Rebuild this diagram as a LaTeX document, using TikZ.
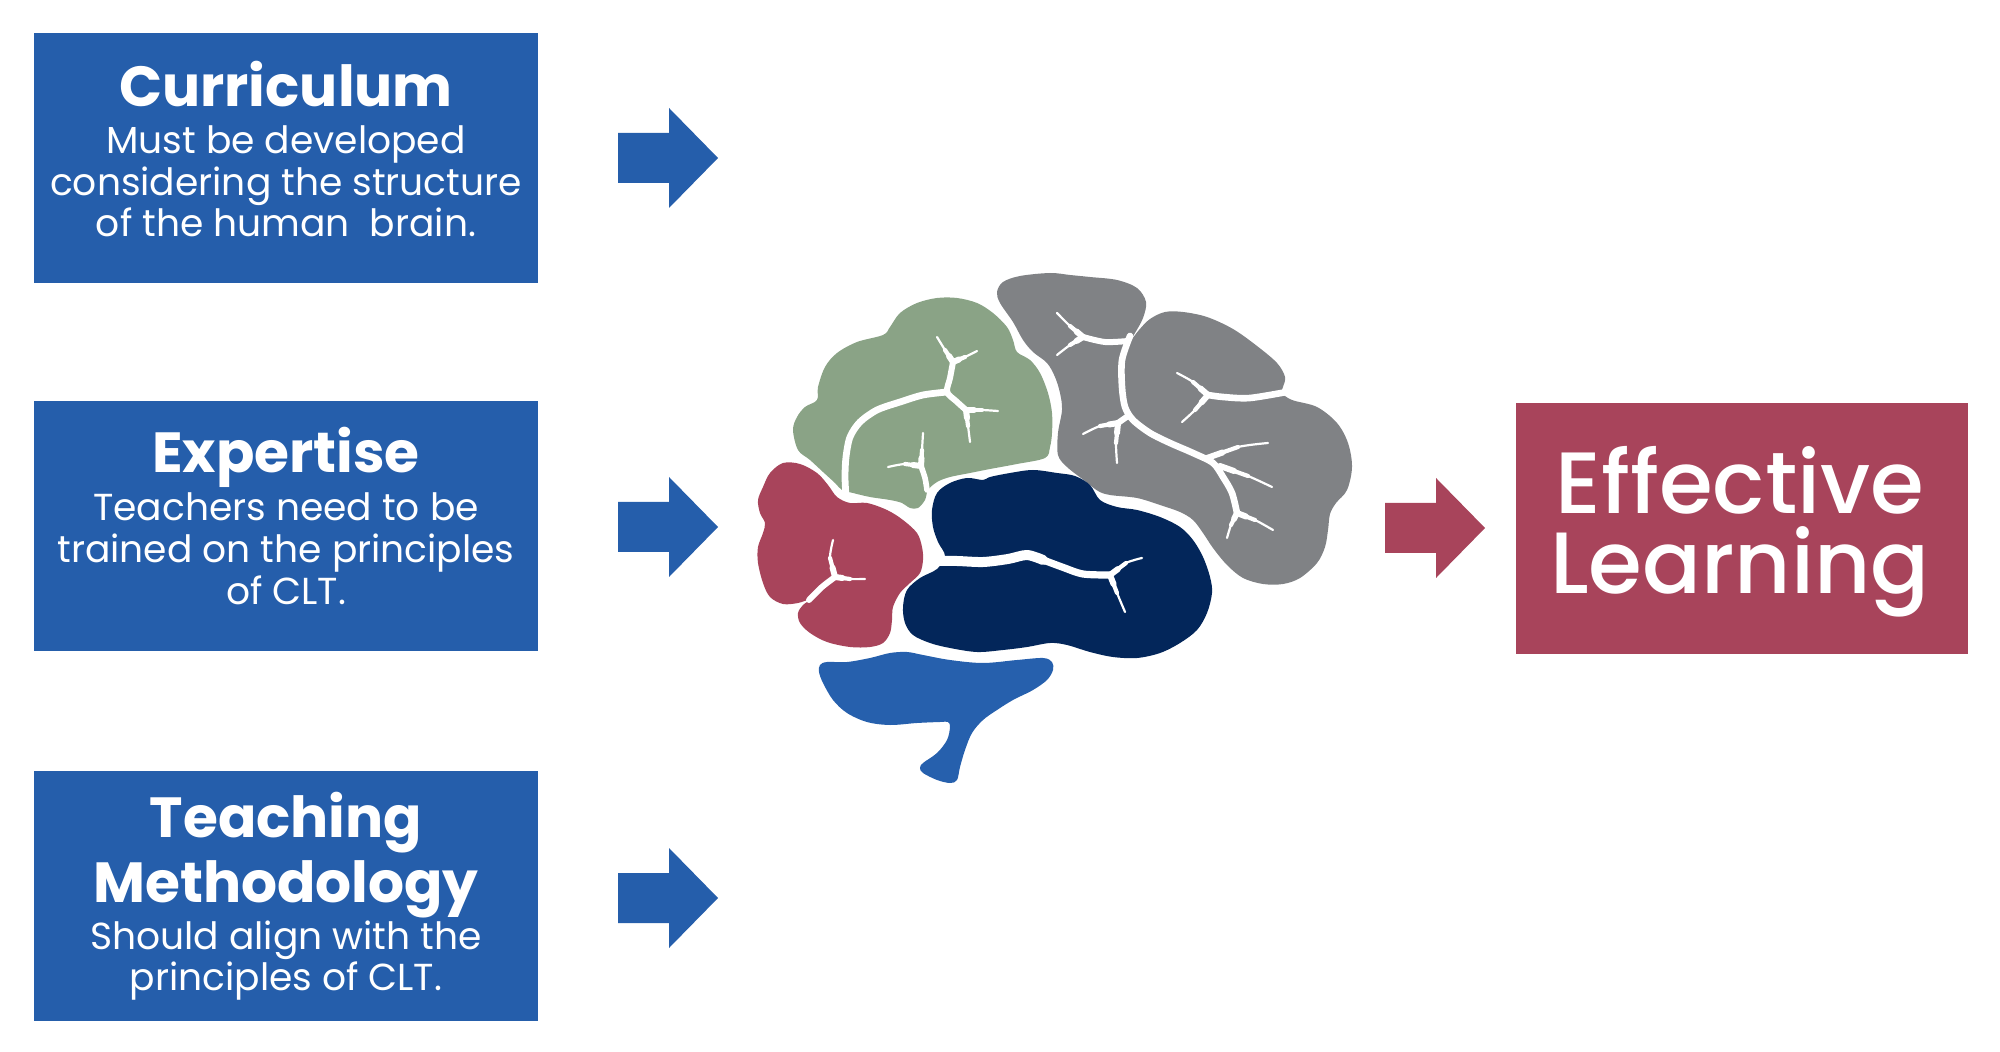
\documentclass[tikz,border=0pt]{standalone}
\usepackage{fontspec}
\setmainfont{Poppins}
\newfontfamily\medfont{Poppins Medium}
\usetikzlibrary{calc}
\definecolor{boxblue}{HTML}{255EAB}
\definecolor{lred}{HTML}{A8445B}
\definecolor{lgreen}{HTML}{8AA386}
\definecolor{lgray}{HTML}{808285}
\definecolor{lnavy}{HTML}{03265A}
\definecolor{lblue}{HTML}{2660AD}
\tikzset{
  infobox/.style={fill=boxblue, draw=none, minimum width=252pt, minimum height=125pt, inner sep=0pt},
  effbox/.style={fill=lred, draw=none, minimum width=226pt, minimum height=125.5pt, inner sep=0pt},
  titletext/.style={anchor=base, text=white, inner sep=0pt, font=\bfseries\fontsize{28.3}{32}\selectfont},
  subtext/.style={anchor=base, text=white, inner sep=0pt, font=\fontsize{18.8}{21}\selectfont},
  efftext/.style={anchor=base, text=white, inner sep=0pt, font=\medfont\fontsize{43.5}{48}\selectfont},
  crack/.style={draw=white, line cap=round, line join=round},
  blockarr/.pic={\fill (0,-25) -- (51,-25) -- (51,-50) -- (100,0) -- (51,50) -- (51,25) -- (0,25) -- cycle;}
}
\newcommand{\arm}[3]{%
  \draw[crack, line width=1.1pt] plot[smooth] coordinates {#1 #2 #3};
  \draw[crack, line width=2.1pt] plot[smooth] coordinates {#2 #3};
  \draw[crack, line width=3pt] ($#2!0.5!#3$) -- #3;}
\begin{document}
\begin{tikzpicture}[x=0.5pt,y=-0.5pt]
\useasboundingbox (0,0) rectangle (2000,1052);

% ---------- left boxes ----------
\node[infobox] (b1) at (286,158) {};
\node[infobox] (b2) at (286,526) {};
\node[infobox] (b3) at (286,896) {};

\node[titletext] (t1) at (286,107) {Curriculum};
\node[subtext] (s1a) at (286,154) {Must be developed};
\node[subtext] (s1b) at (286,195.5) {considering the structure};
\node[subtext] (s1c) at (286,237) {of the human~ brain.};

\node[titletext] (t2) at (286,472.5) {Expertise};
\node[subtext] (s2a) at (286,521) {Teachers need to be};
\node[subtext] (s2b) at (286,563) {trained on the principles};
\node[subtext] (s2c) at (286,604.5) {of CLT.};

\node[titletext] (t3a) at (286,837.5) {Teaching};
\node[titletext] (t3b) at (286,902) {Methodology};
\node[subtext] (s3a) at (286,949) {Should align with the};
\node[subtext] (s3b) at (286,990.5) {principles of CLT.};

% ---------- right box ----------
\node[effbox] (e) at (1742,528.5) {};
\node[efftext] (e1) at (1740,514) {Effective};
\node[efftext] (e2) at (1740,594) {Learning};

% ---------- block arrows ----------
\coordinate (a1) at (618,158);
\coordinate (a2) at (618,527);
\coordinate (a3) at (618,898);
\coordinate (a4) at (1385,528);
\pic[boxblue] at (a1) {blockarr};
\pic[boxblue] at (a2) {blockarr};
\pic[boxblue] at (a3) {blockarr};
\pic[lred] at (a4) {blockarr};

% ---------- brain ----------
% green (frontal)
\fill[lgreen] plot[smooth cycle, tension=0.55] coordinates {
(793,430) (797,417) (805,407) (817,400) (818,387) (825,367) (837,353) (857,342) (883,335)
(890,327) (900,313) (917,303) (937,298) (957,298) (977,303) (993,313) (1007,327) (1013,340)
(1017,352) (1030,360) (1040,373) (1048,393) (1052,413) (1052,433) (1050,447) (1045,458)
(1017,464) (990,469) (970,473) (950,477) (937,482) (928,490) (925,500) (918,508) (910,508)
(902,503) (890,500) (870,497) (853,493) (842,490) (835,483) (823,472) (810,460) (798,450)};
% gray (parietal)
\fill[lgray] plot[smooth cycle, tension=0.55] coordinates {
(997,292) (1003,282) (1020,276) (1050,273) (1070,275) (1090,277) (1117,280) (1137,288)
(1146,302) (1143,318) (1135,333) (1129,343) (1139,330) (1150,319) (1165,312) (1183,312) (1207,317)
(1233,329) (1257,346) (1277,363) (1285,377) (1283,387) (1282,393) (1292,400) (1317,407)
(1337,423) (1348,443) (1352,467) (1347,490) (1336,503) (1330,514) (1328,530) (1325,547)
(1317,563) (1300,578) (1283,584) (1263,584) (1243,578) (1227,565) (1213,548) (1203,533)
(1193,520) (1180,512) (1160,505) (1137,498) (1110,495) (1098,491) (1085,481) (1067,467)
(1058,455) (1058,433) (1062,410) (1060,393) (1055,377) (1047,363) (1033,352) (1023,340)
(1013,322) (1000,303)};
% navy (temporal)
\fill[lnavy] plot[smooth cycle, tension=0.55] coordinates {
(937,493) (950,483) (967,478) (983,480) (990,477) (1010,473) (1033,470) (1057,473)
(1075,476) (1090,485) (1100,500) (1117,507) (1137,510) (1160,517) (1180,527) (1193,540)
(1203,557) (1210,577) (1212,593) (1207,613) (1197,630) (1180,643) (1160,653) (1137,658)
(1113,657) (1090,652) (1067,645) (1050,643) (1027,647) (1003,650) (977,652) (950,648)
(930,643) (913,635) (905,623) (903,607) (907,590) (920,578) (937,569) (945,556) (938,542)
(933,527) (932,510)};
% red (occipital)
\fill[lred] plot[smooth cycle, tension=0.55] coordinates {
(763,487) (770,473) (783,463) (800,464) (817,473) (828,485) (837,497) (850,503) (867,503)
(887,510) (903,520) (917,533) (922,547) (923,560) (920,573) (910,583) (900,593) (893,607)
(892,620) (890,633) (883,643) (870,647) (850,647) (827,642) (810,633) (800,623) (798,613)
(803,605) (811,599) (798,603) (783,604) (770,597) (763,583) (758,563) (758,547) (763,533)
(765,523) (760,513) (758,500)};
% blue (cerebellum + stem)
\fill[lblue] plot[smooth cycle, tension=0.55] coordinates {
(820,665) (827,662) (847,662) (870,658) (890,653) (907,652) (923,655) (950,660) (983,663)
(1017,660) (1043,658) (1052,662) (1053,670) (1047,680) (1033,690) (1013,700) (997,710)
(983,720) (972,733) (965,750) (960,767) (957,780) (950,783) (937,780) (923,773) (920,768)
(923,763) (937,753) (947,740) (950,727) (948,722) (940,722) (917,723) (890,725) (867,722)
(847,713) (833,700) (823,683) (819,672)};

% ---------- sulci ----------
% green
\draw[crack, line width=3.4pt] plot[smooth] coordinates {(947,392) (923,395) (900,402) (877,410) (860,422) (850,437) (846,457) (845,477) (846,497)};
\arm{(937,337)}{(945,350)}{(953,362)}
\arm{(977,351)}{(965,357)}{(953,362)}
\draw[crack, line width=3pt] plot[smooth] coordinates {(953,362) (950,378) (947,392) (956,401) (966,410)};
\arm{(998,411)}{(982,410)}{(966,410)}
\arm{(970,442)}{(968,426)}{(966,410)}
\arm{(923,433)}{(922,450)}{(921,466)}
\arm{(888,467)}{(905,464)}{(921,466)}
\draw[crack, line width=2.8pt] plot[smooth] coordinates {(921,466) (925,478) (927,490)};
% red
\arm{(833,540)}{(830,558)}{(835,577)}
\arm{(865,579)}{(850,579)}{(835,577)}
\draw[crack, line width=3pt] plot[smooth] coordinates {(835,577) (822,587) (809,600)};
% gray
\arm{(1057,313)}{(1070,326)}{(1083,337)}
\arm{(1057,355)}{(1070,345)}{(1083,337)}
\draw[crack, line width=3pt] plot[smooth] coordinates {(1083,337) (1105,342) (1128,341)};
\draw[crack, line width=3.3pt] plot[smooth] coordinates {(1130,336) (1122,360) (1122,387) (1125,407) (1133,420) (1150,433) (1170,443) (1193,453) (1213,463) (1223,477) (1232,493) (1237,513)};
\arm{(1227,538)}{(1231,525)}{(1237,513)}
\arm{(1273,530)}{(1255,520)}{(1237,513)}
\arm{(1268,443)}{(1238,447)}{(1207,458)}
\arm{(1272,487)}{(1248,476)}{(1220,466)}
\arm{(1083,434)}{(1100,426)}{(1118,423)}
\arm{(1117,463)}{(1116,443)}{(1118,423)}
\draw[crack, line width=3pt] (1118,423) -- (1128,416);
\draw[crack, line width=3.3pt] plot[smooth] coordinates {(1292,391) (1250,398) (1223,397) (1208,395)};
\arm{(1177,373)}{(1193,382)}{(1208,395)}
\arm{(1182,422)}{(1195,410)}{(1208,395)}
% navy
\draw[crack, line width=5pt] plot[smooth] coordinates {(936,561) (957,561) (983,562) (1008,559) (1027,555) (1043,560)};
\draw[crack, line width=3.6pt] plot[smooth] coordinates {(1027,555) (1043,560) (1062,567) (1083,574) (1110,575)};
\arm{(1142,558)}{(1126,563)}{(1110,575)}
\arm{(1125,612)}{(1117,593)}{(1110,575)}
\end{tikzpicture}
\end{document}
